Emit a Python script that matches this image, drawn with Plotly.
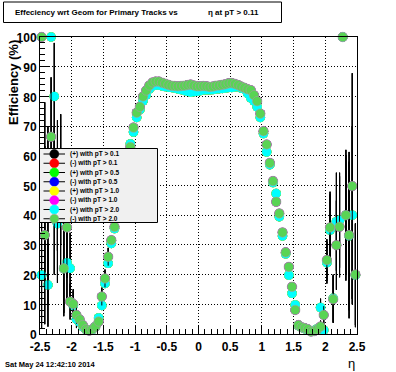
import plotly.graph_objects as go

# ---------------- data ----------------
eta = [round(-2.475 + 0.05 * i, 3) for i in range(100)]  # histogram bin centres

# (-) with pT > 2.0  (drawn on top, colour 8)
eff_minus = [100, 33.3, 40, 66.4, 45, 50, 52, 22.1, 35.9, 10.9,
             10.1, 6.4, 4.9, 3.0, 1.6, 1.1, 1.6, 2.5, 4.2, 12.6,
             18.7, 26.0, 31.6, 36.1, 41, 46, 51, 57, 63, 69.5,
             74.5, 76.5, 80.0, 82.0, 83.7, 84.7, 85.0, 85.0, 84.6, 84.3,
             83.9, 83.6, 83.5, 83.4, 83.5, 83.6, 83.8, 84.0, 83.7, 83.4,
             83.4, 83.5, 83.4, 83.2, 83.3, 83.6, 83.7, 83.9, 84.1, 84.4,
             84.5, 84.2, 83.8, 83.3, 82.9, 82.4, 82.1, 80.4, 78.4, 74.2,
             68.3, 63.8, 57.6, 51.5, 44.5, 40.6, 34.2, 27.5, 22.6, 15.9,
             8.1, 3.0, 2.3, 2.0, 1.6, 0.8, 1.0, 1.6, 2.5, 6.4,
             24.9, 35.9, 11.7, 29.9, 36.1, 100, 40.0, 33.3, 49.8, 20.0]
err_minus = [0, 30, 30, 20, 25, 22, 22, 15, 17, 6,
             5, 3, 2, 0, 0, 0, 0, 0, 0, 3,
             3, 3, 0, 0, 0, 0, 0, 0, 0, 0,
             0, 0, 0, 0, 0, 0, 0, 0, 0, 0,
             0, 0, 0, 0, 0, 0, 0, 0, 0, 0,
             0, 0, 0, 0, 0, 0, 0, 0, 0, 0,
             0, 0, 0, 0, 0, 0, 0, 0, 0, 0,
             0, 0, 0, 0, 0, 0, 0, 0, 0, 0,
             0, 0, 0, 0, 0, 0, 0, 0, 2, 3,
             7, 12, 8, 15, 17, 0, 22, 28, 38, 17]

# (+) with pT > 2.0  (cyan)
eff_plus = [19.8, 48, 16.5, 100, 80, 37.2, 48, 22, 24, 22.1,
            9.6, 5.0, 4.0, 2.5, 1.5, 1.2, 1.5, 2.5, 5.4, 9.6,
            17, 23.8, 30.5, 35.5, 40, 45, 50, 56, 64, 68,
            72.9, 75.5, 78.5, 80.5, 82.5, 83.5, 83.8, 83.8, 83.5, 83.3,
            83.1, 83.0, 82.8, 82.5, 82.3, 82.0, 81.7, 81.4, 81.6, 81.7,
            81.9, 82.2, 82.2, 82.2, 82.3, 82.5, 82.6, 82.7, 82.8, 83.0,
            83.0, 83.2, 83.3, 82.8, 82.5, 81.0, 79.5, 78.5, 76.5, 72.9,
            67.5, 61.3, 57, 51, 47.3, 39.5, 33, 27, 19.8, 13.7,
            9.8, 2.8, 2.2, 1.8, 1.5, 1.0, 1.2, 1.8, 8.9, 1.3,
            24, 35, 12, 37.8, 38.3, 100, 40, 33, 40, 19.8]
err_plus = [18, 30, 14, 0, 18, 20, 26, 16, 14, 12,
            5, 3, 0, 0, 0, 0, 0, 0, 0, 0,
            0, 0, 0, 0, 0, 0, 0, 0, 0, 0,
            0, 0, 0, 0, 0, 0, 0, 0, 0, 0,
            0, 0, 0, 0, 0, 0, 0, 0, 0, 0,
            0, 0, 0, 0, 0, 0, 0, 0, 0, 0,
            0, 0, 0, 0, 0, 0, 0, 0, 0, 0,
            0, 0, 0, 0, 0, 0, 0, 0, 0, 0,
            0, 0, 0, 0, 0, 0, 0, 0, 3, 2,
            7, 12, 8, 16.5, 16, 0, 20, 25, 30, 17.5]

series_names = ["(+) with pT > 0.1", "(-) with pT > 0.1",
                "(+) with pT > 0.5", "(-) with pT > 0.5",
                "(+) with pT > 1.0", "(-) with pT > 1.0",
                "(+) with pT > 2.0", "(-) with pT > 2.0"]
series_colors = ["#000000", "#ff0000", "#00ff00", "#0000ff",
                 "#ffff00", "#ff00ff", "#00ffff", "#59d454"]

x_ticks = [-2.5, -2, -1.5, -1, -0.5, 0, 0.5, 1, 1.5, 2, 2.5]
x_ticktext = ["-2.5", "-2", "-1.5", "-1", "-0.5", "0", "0.5", "1", "1.5", "2", "2.5"]
y_ticks = [0, 10, 20, 30, 40, 50, 60, 70, 80, 90, 100]

# ---------------- layout geometry (pixels) ----------------
W, H = 396, 372
L, R, T, B = 40, 39, 37, 38
PW, PH = W - L - R, H - T - B
FONT = "Liberation Sans, Arial, Helvetica, sans-serif"
RIM = "#a898a8"


def px(xp):
    return (xp - L) / PW


def py(yp):
    return (H - B - yp) / PH


fig = go.Figure()

for i, (name, col) in enumerate(zip(series_names, series_colors)):
    plus = name.startswith("(+)")
    yv = eff_plus if plus else eff_minus
    ev = err_plus if plus else err_minus
    is8 = col == "#59d454"
    fig.add_trace(go.Scatter(
        x=eta, y=yv, mode="markers", name=name,
        marker=dict(color=col, size=9.5, symbol="circle",
                    line=dict(color=RIM if is8 else col, width=0.6 if is8 else 0)),
        error_y=dict(type="data", array=ev, visible=True, width=0,
                     thickness=1, color="black"),
        cliponaxis=False, showlegend=False, hoverinfo="skip"))

shapes = []
annotations = []

# title box
shapes.append(dict(type="rect", xref="paper", yref="paper",
                   x0=px(3.5), x1=px(281.5), y0=py(22.5), y1=py(2),
                   line=dict(color="black", width=1), fillcolor="white", layer="above"))
annotations.append(dict(xref="paper", yref="paper", x=px(12.5), y=py(13),
                        xanchor="left", yanchor="middle", showarrow=False,
                        text="<b>Effeciency wrt Geom for Primary Tracks vs</b>",
                        font=dict(family=FONT, size=8, color="black")))
annotations.append(dict(xref="paper", yref="paper", x=px(206.5), y=py(13),
                        xanchor="left", yanchor="middle", showarrow=False,
                        text="<b>η at pT &gt; 0.11</b>",
                        font=dict(family=FONT, size=8, color="black")))

# legend box
lx0, lx1, ly0, ly1 = 39.5, 157.5, 148.5, 222.5
shapes.append(dict(type="rect", xref="paper", yref="paper",
                   x0=px(lx0), x1=px(lx1), y0=py(ly1), y1=py(ly0),
                   line=dict(color="black", width=1), fillcolor="#f0f0f0", layer="above"))
row_y0, row_dy = 154, 9.25
for i, (name, col) in enumerate(zip(series_names, series_colors)):
    yc = row_y0 + i * row_dy
    shapes.append(dict(type="line", xref="paper", yref="paper",
                       x0=px(43.5), x1=px(65), y0=py(yc), y1=py(yc),
                       line=dict(color="black", width=1), layer="above"))
    r = 4.5
    shapes.append(dict(type="circle", xref="paper", yref="paper",
                       x0=px(54.3 - r), x1=px(54.3 + r), y0=py(yc + r), y1=py(yc - r),
                       fillcolor=col,
                       line=dict(color=RIM if col == "#59d454" else col, width=0.6),
                       layer="above"))
    annotations.append(dict(xref="paper", yref="paper", x=px(68), y=py(yc),
                            xanchor="left", yanchor="middle", showarrow=False,
                            text="<b>" + name.replace(">", "&gt;") + "</b>",
                            font=dict(family=FONT, size=6.5, color="black")))

# axis titles and date stamp
annotations.append(dict(xref="paper", yref="paper", x=px(14), y=py(83),
                        xanchor="center", yanchor="middle", showarrow=False,
                        textangle=-90, text="<b>Efficiency (%)</b>",
                        font=dict(family=FONT, size=13, color="black")))
annotations.append(dict(xref="paper", yref="paper", x=px(351.5), y=py(363),
                        xanchor="center", yanchor="middle", showarrow=False,
                        text="η", font=dict(family=FONT, size=13, color="black")))
annotations.append(dict(xref="paper", yref="paper", x=px(3), y=py(364),
                        xanchor="left", yanchor="middle", showarrow=False,
                        text="<b>Sat May 24 12:42:10 2014</b>",
                        font=dict(family=FONT, size=7.5, color="black")))

fig.update_layout(
    width=W, height=H,
    margin=dict(l=L, r=R, t=T, b=B, pad=0),
    paper_bgcolor="white", plot_bgcolor="white",
    font=dict(family=FONT, color="black"),
    shapes=shapes, annotations=annotations,
    showlegend=False,
)
fig.update_xaxes(
    range=[-2.5, 2.5], tickmode="array", tickvals=x_ticks, ticktext=x_ticktext,
    ticks="inside", ticklen=9, tickwidth=1, tickcolor="black",
    minor=dict(dtick=0.1, tick0=0, ticks="inside", ticklen=5, tickcolor="black", showgrid=False),
    showline=True, linecolor="black", linewidth=1, mirror=True,
    showgrid=True, gridcolor="black", gridwidth=1, griddash="1px,2px",
    zeroline=False, ticklabelstandoff=2,
    tickfont=dict(family=FONT, size=12, color="black", weight="bold"),
)
fig.update_yaxes(
    range=[0, 100], tickmode="array", tickvals=y_ticks,
    ticks="inside", ticklen=9, tickwidth=1, tickcolor="black",
    minor=dict(dtick=2, tick0=0, ticks="inside", ticklen=5, tickcolor="black", showgrid=False),
    showline=True, linecolor="black", linewidth=1, mirror=True,
    showgrid=True, gridcolor="black", gridwidth=1, griddash="1px,2px",
    zeroline=False, ticklabelshift=1,
    tickfont=dict(family=FONT, size=12, color="black", weight="bold"),
)

fig.write_html("out.html", config={"displayModeBar": False},
               post_script="document.body.style.margin='0';document.body.style.overflow='hidden';")
